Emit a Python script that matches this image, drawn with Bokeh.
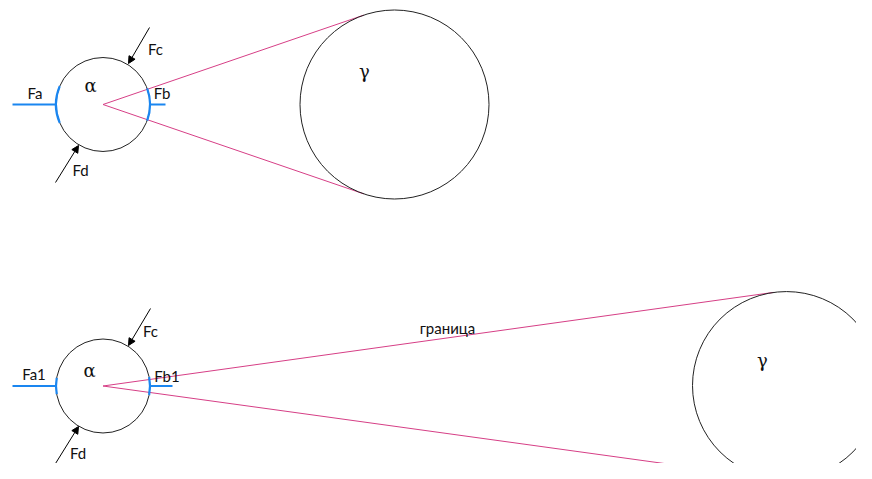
import numpy as np
from bokeh.plotting import figure
from bokeh.models import Range1d, Arrow, NormalHead, ColumnDataSource
from bokeh.core.properties import value
from bokeh.embed import file_html
from bokeh.resources import INLINE

# ---- diagram data (reference pixel coordinates, y downward) ----
# small circles "alpha" (top scene, bottom scene)
alpha_x = [102.5, 102.5]
alpha_y = [104.0, 385.5]
alpha_r = [47.0, 47.0]
# big circles "gamma"
gamma_x = [394.0, 786.0]
gamma_y = [104.0, 385.0]
gamma_r = [94.5, 94.0]

# blue force lines (horizontal): left line start x and right line end x
fa_x0 = [12.0, 12.0]
fb_x1 = [165.0, 172.0]
# blue arc half-angles (degrees) on left and right of alpha
arc_left_deg = [23.0, 10.0]
arc_right_deg = [20.0, 11.0]

# black arrows Fc and Fd: start points and end points
fc_start = [(149.0, 27.0), (150.0, 308.0)]
fc_end = [(128.0, 63.0), (128.0, 345.0)]
fd_start = [(55.0, 182.0), (55.0, 463.0)]
fd_end = [(78.0, 145.0), (78.0, 426.0)]

# labels
label_text = ["Fa", "Fb", "Fc", "Fd", "Fa1", "Fb1", "Fc", "Fd", "граница"]
label_x = [34.5, 161.5, 155.0, 80.0, 33.5, 166.5, 150.0, 77.5, 447.0]
label_y = [92.0, 92.0, 48.5, 169.0, 373.0, 375.0, 330.0, 452.5, 327.0]
greek_text = ["α", "γ", "α", "γ"]
greek_x = [90.0, 364.0, 89.0, 762.0]
greek_y = [85.0, 71.0, 369.5, 360.0]

PINK = "#d63f86"
BLUE = "#1a86f0"

W, H = 856, 463
p = figure(width=W, height=H, output_backend="svg", toolbar_location=None,
           x_range=Range1d(0, W), y_range=Range1d(H, 0),
           min_border=0, outline_line_color=None)
p.axis.visible = False
p.grid.visible = False
p.background_fill_color = "white"
p.border_fill_color = "white"

# pink tangent lines from alpha center to gamma circle
for i in range(2):
    cx, cy = alpha_x[i], alpha_y[i]
    gx, gy, r = gamma_x[i], gamma_y[i], gamma_r[i]
    d = np.hypot(gx - cx, gy - cy)
    base = np.arctan2(cy - gy, cx - gx)
    th = np.arccos(r / d)
    for s in (-1, 1):
        tx = gx + r * np.cos(base + s * th)
        ty = gy + r * np.sin(base + s * th)
        p.line([cx, tx], [cy, ty], line_color=PINK, line_width=1)

# circles
p.circle(x=alpha_x, y=alpha_y, radius=alpha_r, fill_color=None,
         line_color="#222222", line_width=1)
p.circle(x=gamma_x, y=gamma_y, radius=gamma_r, fill_color=None,
         line_color="#222222", line_width=1)

# blue arcs and force lines
for i in range(2):
    cx, cy, r = alpha_x[i], alpha_y[i], alpha_r[i]
    la = np.radians(arc_left_deg[i])
    ra = np.radians(arc_right_deg[i])
    p.arc(x=[cx], y=[cy], radius=r, start_angle=np.pi - la, end_angle=np.pi + la,
          line_color=BLUE, line_width=2.2)
    p.arc(x=[cx], y=[cy], radius=r, start_angle=-ra, end_angle=ra,
          line_color=BLUE, line_width=2.2)
    p.line([fa_x0[i], cx - r], [cy, cy], line_color=BLUE, line_width=2)
    p.line([cx + r, fb_x1[i]], [cy, cy], line_color=BLUE, line_width=2)

# black arrows
for starts, ends in ((fc_start, fc_end), (fd_start, fd_end)):
    for (x0, y0), (x1, y1) in zip(starts, ends):
        p.add_layout(Arrow(end=NormalHead(size=7, fill_color="black", line_color="black",
                                          line_width=1),
                           x_start=x0, y_start=y0, x_end=x1, y_end=y1,
                           line_color="black", line_width=1))

src = ColumnDataSource(dict(x=label_x, y=label_y, t=label_text))
p.text(x="x", y="y", text="t", source=src, text_font=value("Lato"),
       text_font_size="15px", text_align="center", text_baseline="middle",
       text_color="#111111")
gsrc = ColumnDataSource(dict(x=greek_x, y=greek_y, t=greek_text))
p.text(x="x", y="y", text="t", source=gsrc, text_font=value("DejaVu Serif"),
       text_font_size="18px", text_align="center", text_baseline="middle",
       text_color="#111111")

open("out.html", "w").write(file_html(p, INLINE))
